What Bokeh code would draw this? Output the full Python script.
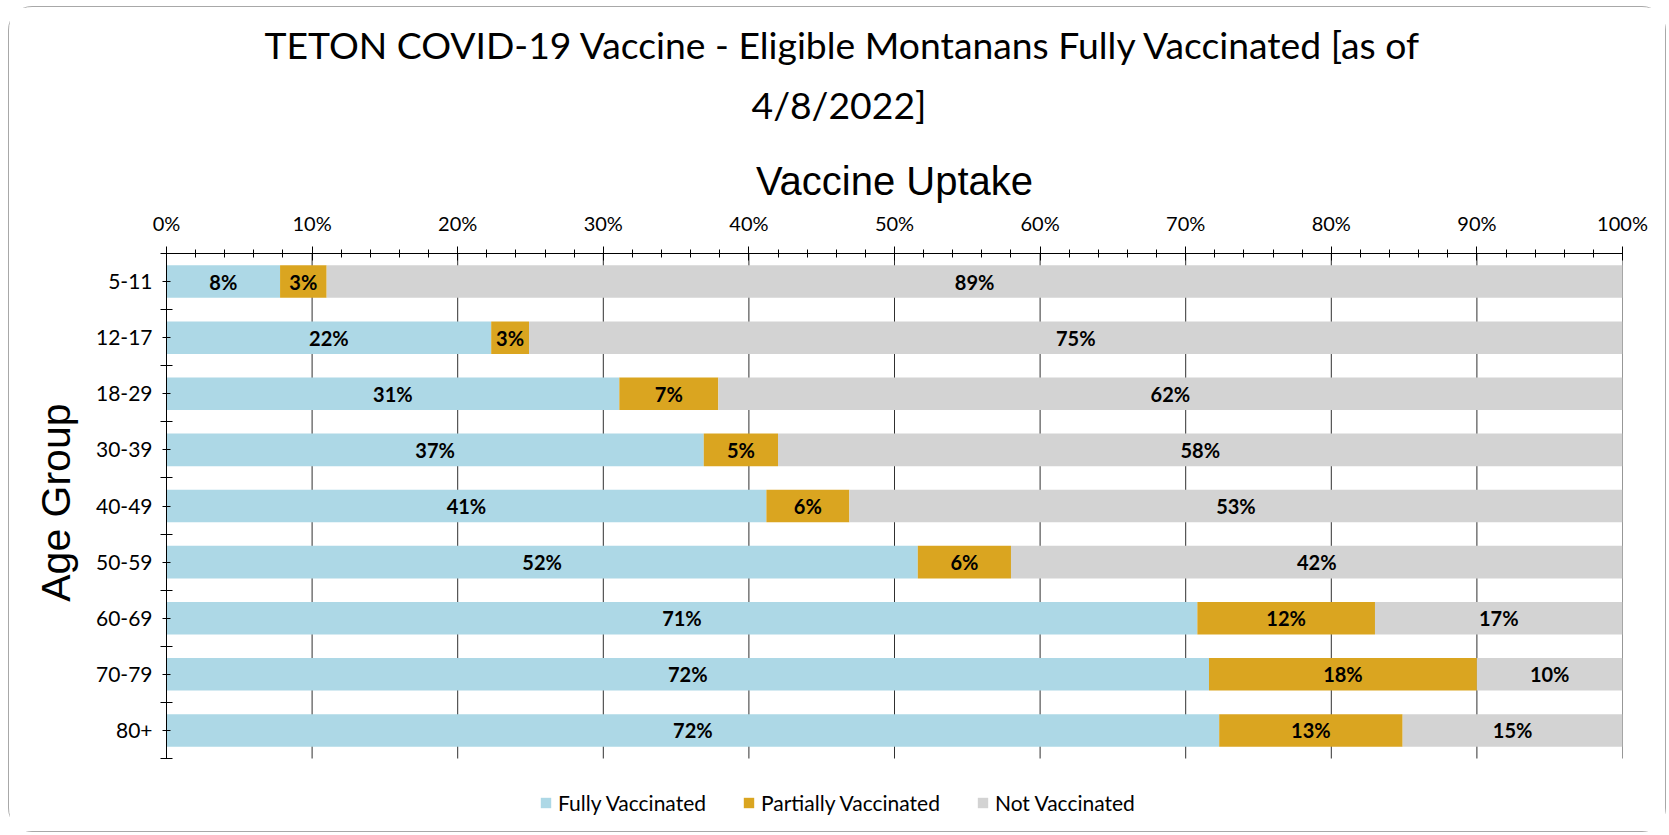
from bokeh.plotting import figure
from bokeh.models import (ColumnDataSource, Range1d, FixedTicker, Legend, LegendItem, Title)
from bokeh.core.properties import value
from bokeh.embed import file_html
from bokeh.resources import INLINE

# ---------------- data ----------------
age_groups = ["5-11", "12-17", "18-29", "30-39", "40-49", "50-59", "60-69", "70-79", "80+"]
fully = [7.8, 22.3, 31.1, 36.9, 41.2, 51.6, 70.8, 71.6, 72.3]
partial = [3.2, 2.6, 6.8, 5.1, 5.7, 6.4, 12.2, 18.4, 12.6]
not_vacc = [89.0, 75.1, 62.1, 58.0, 53.1, 42.0, 17.0, 10.0, 15.1]
series_names = ["Fully Vaccinated", "Partially Vaccinated", "Not Vaccinated"]
series_colors = ["#ADD8E6", "#DAA520", "#D3D3D3"]
x_ticks = [0, 10, 20, 30, 40, 50, 60, 70, 80, 90, 100]
title_line1 = "TETON COVID-19 Vaccine - Eligible Montanans Fully Vaccinated [as of"
title_line2 = "4/8/2022]"
y_title = "Age Group"

FONT = "Lato"
FONT2 = "Liberation Sans"
n = len(age_groups)
ypos = list(range(n))

# layout (pixels)
CHART_H = 505          # height of the bar area
LEGEND_H = 73          # extra room under the bars for the legend
row_px = CHART_H / n
y_extra = LEGEND_H / row_px

src = ColumnDataSource(dict(y=ypos, fully=fully, partial=partial, not_vacc=not_vacc))

p = figure(frame_width=1456, frame_height=CHART_H + LEGEND_H, output_backend="svg",
           toolbar_location=None,
           x_range=Range1d(0, 100), y_range=Range1d(n - 0.5 + y_extra, -0.5),
           x_axis_location="above",
           min_border_left=157, min_border_right=43, min_border_top=246, min_border_bottom=0)
p.styles = {"margin-left": "8px", "margin-top": "6px",
            "border": "1px solid #a8a8a8", "border-radius": "24px"}
p.outline_line_color = None
p.title.text = ""

t2 = Title(text=title_line2, align="left", offset=585, text_font=FONT, text_font_size="37.3px",
           text_font_style="normal", text_color="black", standoff=57)
t1 = Title(text=title_line1, align="left", offset=98, text_font=FONT, text_font_size="37.3px",
           text_font_style="normal", text_color="black", standoff=-30)
p.add_layout(t2, "above")
p.add_layout(t1, "above")

# vertical grid lines limited to the bar area
grid_src = ColumnDataSource(dict(x=x_ticks, y0=[-0.5] * len(x_ticks), y1=[n - 0.5] * len(x_ticks)))
p.segment(x0="x", y0="y0", x1="x", y1="y1", source=grid_src, line_color="#303030",
          line_width=1, level="underlay")

renderers = p.hbar_stack(["fully", "partial", "not_vacc"], y="y", height=0.58, source=src,
                         color=series_colors, line_color=None)

# labels centered in each segment
lefts = [0.0] * n
lab_x, lab_y, lab_t = [], [], []
for vals in (fully, partial, not_vacc):
    for i, v in enumerate(vals):
        lab_x.append(lefts[i] + v / 2)
        lab_y.append(i)
        lab_t.append(f"{round(v)}%")
        lefts[i] += v
lab_src = ColumnDataSource(dict(x=lab_x, y=lab_y, t=lab_t))
p.text(x="x", y="y", text="t", source=lab_src, text_align="center", text_baseline="middle",
       text_font=value(FONT), text_font_size="20px", text_font_style="bold", text_color="black")

# x axis (top)
xa = p.xaxis[0]
xa.ticker = FixedTicker(ticks=x_ticks, minor_ticks=list(range(0, 101, 2)))
xa.major_label_overrides = {t: f"{t}%" for t in x_ticks}
xa.axis_label = "Vaccine Uptake"
xa.axis_label_text_font = FONT2
xa.axis_label_text_font_size = "40px"
xa.axis_label_text_font_style = "normal"
xa.axis_label_text_color = "black"
xa.axis_label_standoff = 5
xa.major_label_text_font = FONT
xa.major_label_text_font_size = "20px"
xa.major_label_text_color = "black"
xa.major_label_standoff = 12
xa.axis_line_color = "black"
xa.major_tick_line_color = "black"
xa.minor_tick_line_color = "black"
xa.major_tick_in = 7
xa.major_tick_out = 7
xa.minor_tick_in = 4
xa.minor_tick_out = 4

# y axis (label padded with no-break spaces so it is centred on the bar area,
# not on the bar area plus the legend strip)
ya = p.yaxis[0]
ya.bounds = (-0.5, n - 0.5)
ya.ticker = FixedTicker(ticks=ypos, minor_ticks=[i - 0.5 for i in range(n + 1)])
ya.major_label_overrides = {i: g for i, g in enumerate(age_groups)}
ya.axis_label = "\u00a0" * 7 + y_title
ya.axis_label_text_font = FONT2
ya.axis_label_text_font_size = "41px"
ya.axis_label_text_font_style = "normal"
ya.axis_label_text_color = "black"
ya.axis_label_standoff = 14
ya.major_label_text_font = FONT
ya.major_label_text_font_size = "21px"
ya.major_label_text_color = "black"
ya.major_label_standoff = 8
ya.axis_line_color = "black"
ya.major_tick_line_color = "black"
ya.minor_tick_line_color = "black"
ya.major_tick_in = 4
ya.major_tick_out = 4
ya.minor_tick_in = 6
ya.minor_tick_out = 6

p.xgrid.grid_line_color = None
p.ygrid.grid_line_color = None

legend = Legend(items=[LegendItem(label=series_names[k], renderers=[renderers[k]]) for k in range(3)],
                orientation="horizontal", location=(373, 16),
                label_text_font=FONT, label_text_font_size="21px", label_text_color="black",
                glyph_width=13, glyph_height=13, spacing=36, label_standoff=6,
                border_line_color=None, background_fill_alpha=0, margin=0, padding=4)
p.add_layout(legend, "center")

open("out.html", "w").write(file_html(p, INLINE))
